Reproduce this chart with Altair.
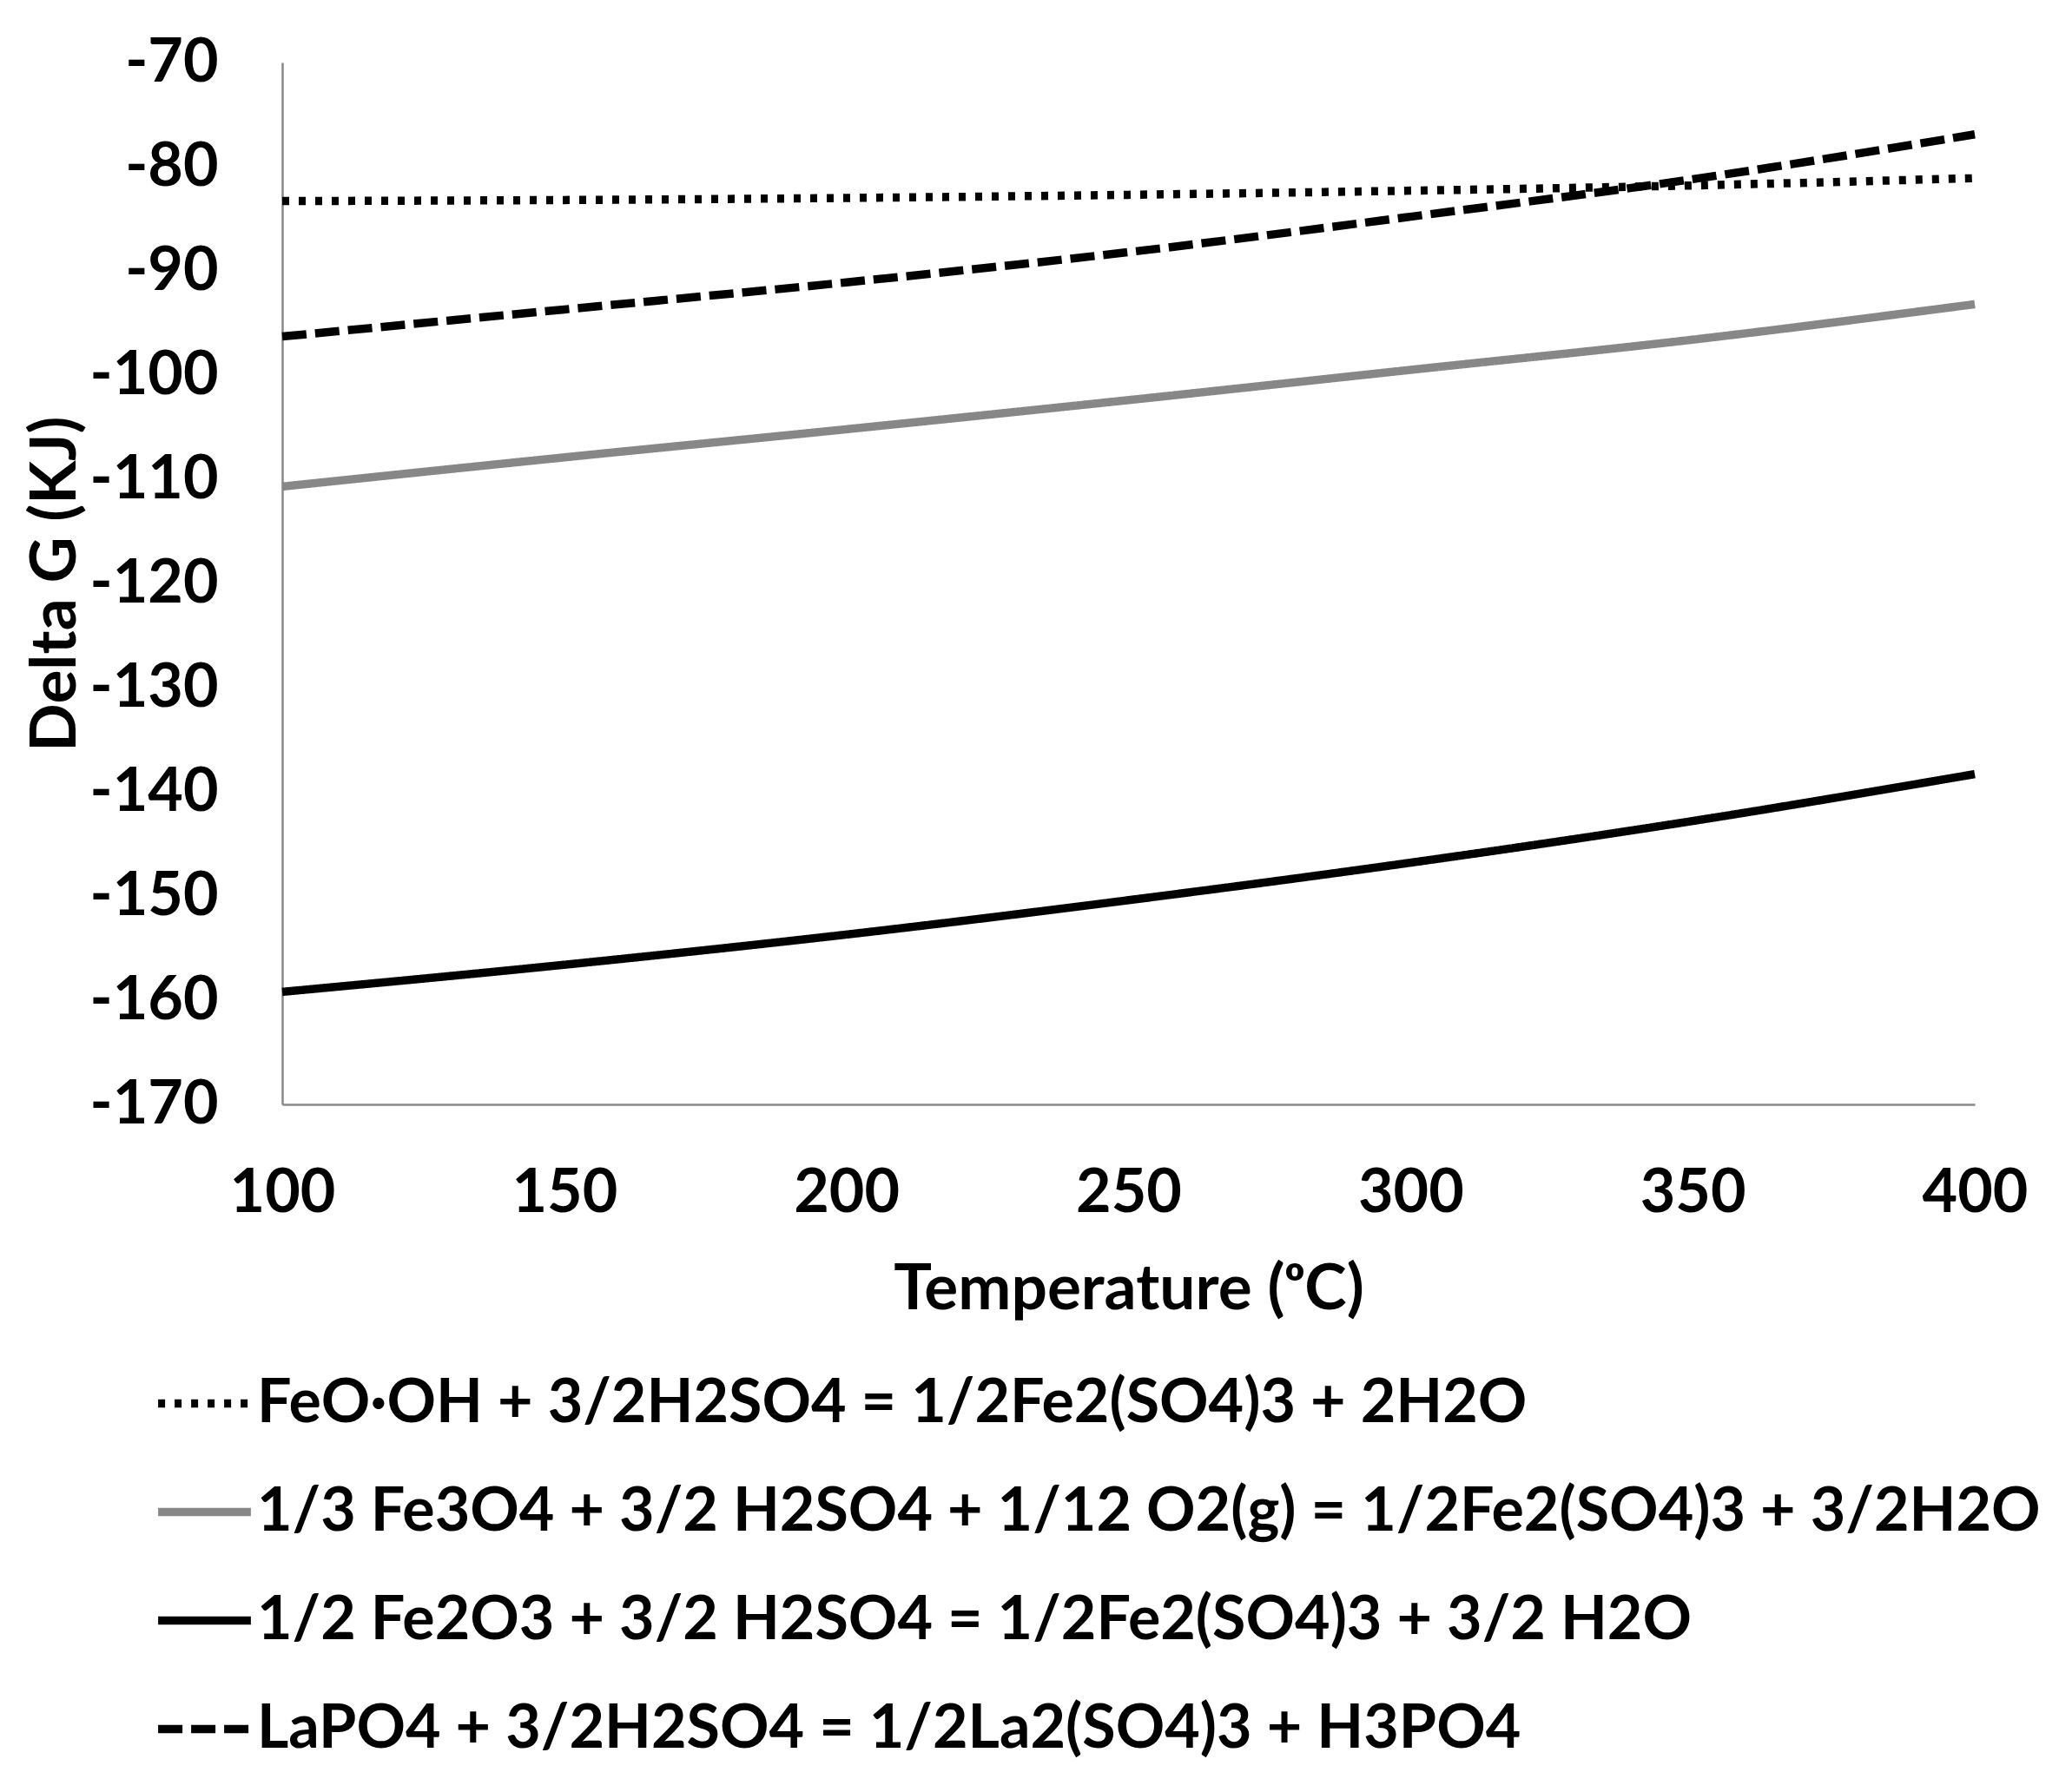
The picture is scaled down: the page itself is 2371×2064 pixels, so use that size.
import altair as alt
import pandas as pd

temps = [100, 150, 200, 250, 300, 350, 400]
s_feooh = [-83.3, -83.2, -83.0, -82.7, -82.3, -81.8, -81.1]
s_fe3o4 = [-110.7, -107.9, -105.2, -102.4, -99.5, -96.6, -93.2]
s_fe2o3 = [-159.2, -156.6, -153.7, -150.4, -146.8, -142.8, -138.3]
s_lapo4 = [-96.3, -93.7, -91.1, -88.2, -84.8, -81.2, -76.9]

names = [
    "FeO·OH + 3/2H2SO4 = 1/2Fe2(SO4)3 + 2H2O",
    "1/3 Fe3O4 + 3/2 H2SO4 + 1/12 O2(g) = 1/2Fe2(SO4)3 + 3/2H2O",
    "1/2 Fe2O3 + 3/2 H2SO4 = 1/2Fe2(SO4)3 + 3/2 H2O",
    "LaPO4 + 3/2H2SO4 = 1/2La2(SO4)3 + H3PO4",
]
series = [s_feooh, s_fe3o4, s_fe2o3, s_lapo4]
colors = ["#000000", "#878787", "#000000", "#000000"]
dashes = [[8, 11], [1, 0], [1, 0], [28, 10]]

rows = []
for n, s in zip(names, series):
    for t, v in zip(temps, s):
        rows.append({"T": t, "G": v, "series": n})
df = pd.DataFrame(rows)

FONT = "Lato"

chart = alt.Chart(df).mark_line(strokeWidth=9.5, strokeCap="butt", interpolate="monotone").encode(
    x=alt.X("T:Q", scale=alt.Scale(domain=[100, 400], nice=False),
            axis=alt.Axis(values=temps, title="Temperature (ᵒC)", labelPadding=68,
                          titlePadding=40, labelFlush=False)),
    y=alt.Y("G:Q", scale=alt.Scale(domain=[-170, -70], nice=False),
            axis=alt.Axis(values=list(range(-170, -69, 10)), title="Delta G (KJ)",
                          labelExpr="replace(datum.label, '−', '-')",
                          labelPadding=74, titlePadding=24)),
    color=alt.Color("series:N", scale=alt.Scale(domain=names, range=colors),
                    legend=alt.Legend(title=None, orient="none", legendX=-148, legendY=1486,
                                      symbolType="stroke", symbolSize=11400, symbolStrokeWidth=9.5,
                                      labelFontSize=70, labelFont=FONT, labelFontWeight="bold",
                                      labelLimit=0, rowPadding=31, labelOffset=2,
                                      labelColor="#000000")),
    strokeDash=alt.StrokeDash("series:N", scale=alt.Scale(domain=names, range=dashes), legend=None),
).properties(
    width=1949, height=1200,
    padding={"top": 29, "left": 20, "right": 5, "bottom": 5},
).configure_view(stroke=None).configure_axis(
    grid=False, ticks=False, domainColor="#898989", domainWidth=2.5,
    labelFont=FONT, labelFontSize=70, labelFontWeight="bold", labelColor="#000000",
    titleFont=FONT, titleFontSize=73, titleFontWeight="bold", titleColor="#000000",
)

chart.save("out.html", embed_options={"renderer": "svg", "actions": False})
